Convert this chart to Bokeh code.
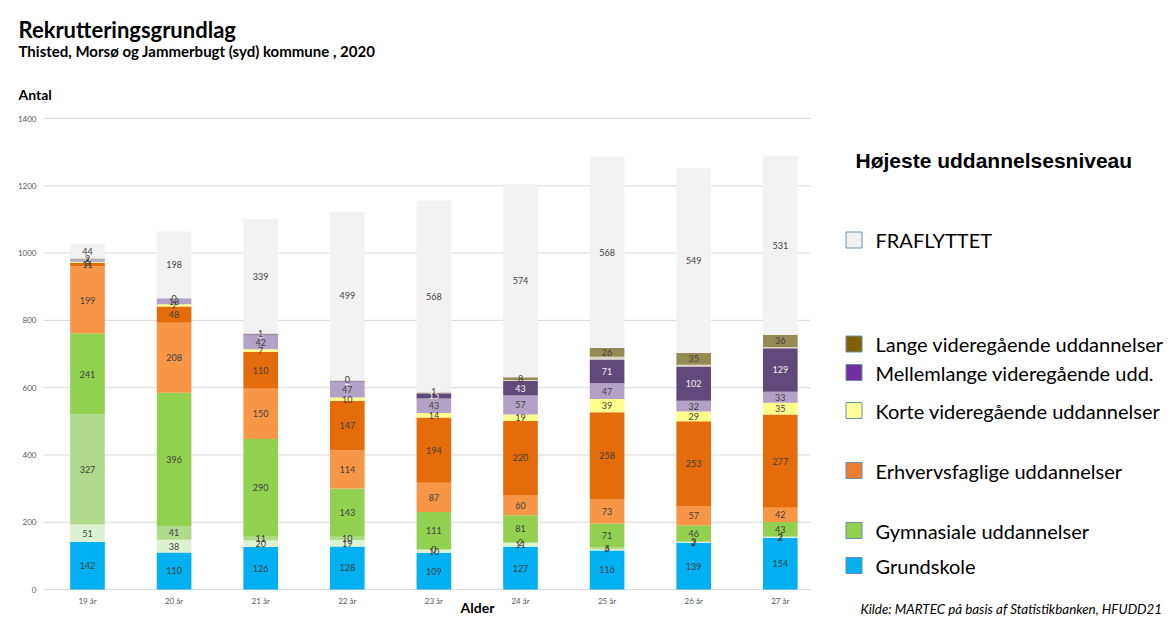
import numpy as np
from bokeh.plotting import figure
from bokeh.models import Range1d, FixedTicker, ColumnDataSource, Label
from bokeh.core.properties import value
from bokeh.embed import file_html
from bokeh.resources import INLINE

# ---------------- data ----------------
categories = ["19 år", "20 år", "21 år", "22 år", "23 år", "24 år", "25 år", "26 år", "27 år"]
grundskole      = [142, 110, 126, 128, 109, 127, 116, 139, 154]
grundskole_plus = [51, 38, 20, 19, 10, 11, 4, 2, 2]
gym_igang       = [327, 41, 11, 10, 0, 2, 5, 3, 2]
gymnasiale      = [241, 396, 290, 143, 111, 81, 71, 46, 43]
erhv_igang      = [199, 208, 150, 114, 87, 60, 73, 57, 42]
erhvervsfaglige = [11, 48, 110, 147, 194, 220, 258, 253, 277]
korte           = [3, 7, 7, 10, 14, 19, 39, 29, 35]
vid_igang       = [8, 18, 42, 47, 43, 57, 47, 32, 33]
mellemlange     = [0, 0, 3, 2, 15, 43, 71, 102, 129]
lange_igang     = [0, 0, 2, 3, 4, 3, 8, 5, 4]
lange           = [2, 0, 1, 0, 1, 8, 26, 35, 36]
fraflyttet      = [44, 198, 339, 499, 568, 574, 568, 549, 531]
y_ticks = [0, 200, 400, 600, 800, 1000, 1200, 1400]

legend_labels = ["FRAFLYTTET", "Lange videregående uddannelser", "Mellemlange videregående udd.",
                 "Korte videregående uddannelser", "Erhvervsfaglige uddannelser",
                 "Gymnasiale uddannelser", "Grundskole"]

# ---------------- styling ----------------
names = ["grundskole", "grundskole_plus", "gym_igang", "gymnasiale", "erhv_igang", "erhvervsfaglige",
         "korte", "vid_igang", "mellemlange", "lange_igang", "lange", "fraflyttet"]
series = [grundskole, grundskole_plus, gym_igang, gymnasiale, erhv_igang, erhvervsfaglige,
          korte, vid_igang, mellemlange, lange_igang, lange, fraflyttet]
colors = ["#00B0F0", "#DDF2D0", "#B0DA8C", "#92D050", "#F79646", "#E46C0A",
          "#FFFF8C", "#B3A2C7", "#604A7B", "#DDD9C3", "#948A54", "#F2F2F2"]
label_colors = ["#404040"] * 12
label_colors[8] = "#F2F2F2"
legend_colors = ["#F2F2F2", "#7F6000", "#7030A0", "#FFFF99", "#ED7D31", "#92D050", "#00B0F0"]

# ---------------- layout (page pixels) ----------------
W, H = 1172, 618
PL, PR, PT, PB = 43, 810, 118, 589       # chart area
SLOT = 86.6                               # px per category
X0 = -0.508                               # data x at chart-area left
PXU = (PB - PT) / 1400.0                  # px per unit on y

x_start = X0 - PL / SLOT
x_end = x_start + W / SLOT
y_start = -(H - PB) / PXU
y_end = 1400 + PT / PXU
x_right = X0 + (PR - PL) / SLOT

xs = list(range(len(categories)))
data = {"x": xs}
for n, s in zip(names, series):
    data[n] = s
source = ColumnDataSource(data)

p = figure(width=W, height=H, output_backend="svg", toolbar_location=None,
           x_range=Range1d(x_start, x_end), y_range=Range1d(y_start, y_end))
p.min_border = 0
p.outline_line_color = None
p.background_fill_color = "white"
p.border_fill_color = "white"

# horizontal gridlines, limited to the chart area
p.segment(x0=[X0] * len(y_ticks), x1=[x_right] * len(y_ticks), y0=y_ticks, y1=y_ticks,
          line_color="#D9D9D9", line_width=1)

p.vbar_stack(names, x="x", width=0.40, color=colors, line_color=None, source=source)

# segment labels
lx, ly, lt, lc = [], [], [], []
bottom = np.zeros(len(categories))
for i, s in enumerate(series):
    arr = np.array(s, dtype=float)
    if names[i] != "lange_igang":
        for j in range(len(categories)):
            lx.append(xs[j])
            ly.append(bottom[j] + arr[j] / 2.0)
            lt.append(str(s[j]))
            lc.append(label_colors[i])
    bottom += arr
lsrc = ColumnDataSource(dict(x=lx, y=ly, t=lt, c=lc))
p.text(x="x", y="y", text="t", text_color="c", source=lsrc, text_align="center",
       text_baseline="middle", text_font=value("Lato"), text_font_size="9px")

# axes drawn inside the frame at fixed locations
p.xaxis.fixed_location = 0
p.yaxis.fixed_location = X0
p.xaxis.ticker = FixedTicker(ticks=xs)
p.xaxis.major_label_overrides = {i: c for i, c in enumerate(categories)}
p.yaxis.ticker = FixedTicker(ticks=y_ticks)
for ax in (p.xaxis[0], p.yaxis[0]):
    ax.axis_line_color = None
    ax.major_tick_line_color = None
    ax.minor_tick_line_color = None
    ax.major_tick_in = 0
    ax.major_tick_out = 0
    ax.minor_tick_in = 0
    ax.minor_tick_out = 0
    ax.major_label_text_font = "Lato"
    ax.major_label_text_font_size = "8px"
    ax.major_label_text_color = "#595959"
p.yaxis.major_label_standoff = 7
p.xaxis.major_label_standoff = 6
p.grid.visible = False

# texts (frame == canvas, screen y measured from bottom), vertically centred at py
def lab(text, px, py, size, font="Lato", style="normal", align="left", color="#000000"):
    p.add_layout(Label(x=px, y=H - py, x_units="screen", y_units="screen", text=text,
                       text_font=font, text_font_size=size, text_font_style=style,
                       text_align=align, text_baseline="middle", text_color=color))

lab("Rekrutteringsgrundlag", 18, 29, "22px", style="bold")
lab("Thisted, Morsø og Jammerbugt (syd) kommune , 2020", 18, 50, "15px", style="bold")
lab("Antal", 18, 94, "14px", style="bold")
lab("Alder", 477, 607, "14px", style="bold", align="center")
lab("Højeste uddannelsesniveau", 855, 160, "21px", font="Liberation Sans", style="bold")
lab("Kilde: MARTEC  på basis af Statistikbanken, HFUDD21", 860, 608, "13.4px", style="italic")

centers = [239.5, 343.5, 372, 410, 470, 530, 565]
for lbl, yc in zip(legend_labels, centers):
    lab(lbl, 875, yc, "20px")

# legend swatches (screen-sized squares)
sq_x = [X0 + (853.5 - PL) / SLOT] * len(centers)
sq_y = [(PB - c) / PXU for c in centers]
p.rect(x=sq_x, y=sq_y, width=16, height=16, width_units="screen", height_units="screen",
       fill_color=legend_colors, line_color="#6A8CAF", line_width=1)

open("out.html", "w").write(file_html(p, INLINE))
